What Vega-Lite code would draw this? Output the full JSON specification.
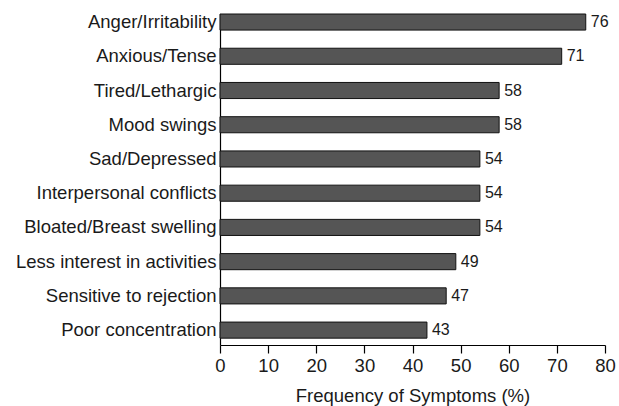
{
  "$schema": "https://vega.github.io/schema/vega-lite/v6.json",
  "autosize": "none",
  "width": 385,
  "height": 331,
  "padding": {"left": 220, "top": 14, "right": 14, "bottom": 61},
  "background": "white",
  "data": {"values": [
    {"symptom": "Anger/Irritability", "value": 76},
    {"symptom": "Anxious/Tense", "value": 71},
    {"symptom": "Tired/Lethargic", "value": 58},
    {"symptom": "Mood swings", "value": 58},
    {"symptom": "Sad/Depressed", "value": 54},
    {"symptom": "Interpersonal conflicts", "value": 54},
    {"symptom": "Bloated/Breast swelling", "value": 54},
    {"symptom": "Less interest in activities", "value": 49},
    {"symptom": "Sensitive to rejection", "value": 47},
    {"symptom": "Poor concentration", "value": 43}
  ]},
  "config": {
    "view": {"stroke": null},
    "font": "Liberation Sans"
  },
  "encoding": {
    "y": {
      "field": "symptom", "type": "nominal", "sort": null,
      "scale": {"paddingInner": 0.53, "paddingOuter": 0.1, "align": 0},
      "axis": {
        "title": null, "ticks": false, "domainColor": "#000", "domainWidth": 1.2,
        "labelFontSize": 18.5, "labelColor": "#1a1a1a", "labelPadding": 4, "labelLimit": 400,
        "labelFont": "Liberation Sans"
      }
    },
    "x": {
      "field": "value", "type": "quantitative",
      "scale": {"domain": [0, 80], "nice": false},
      "axis": {
        "values": [0, 10, 20, 30, 40, 50, 60, 70, 80],
        "title": "Frequency of Symptoms (%)", "titleFontSize": 18.5, "titleFontWeight": "normal",
        "titleColor": "#1a1a1a", "titlePadding": 12,
        "grid": false, "domainColor": "#000", "domainWidth": 1.2,
        "tickColor": "#000", "tickSize": 8, "tickWidth": 1.2,
        "labelFontSize": 18.5, "labelColor": "#1a1a1a", "labelPadding": 3, "labelFlush": false,
        "labelFont": "Liberation Sans", "titleFont": "Liberation Sans"
      }
    }
  },
  "layer": [
    {"mark": {"type": "bar", "color": "#555555", "stroke": "#111", "strokeWidth": 1}},
    {"mark": {"type": "text", "align": "left", "dx": 5, "fontSize": 16, "color": "#1a1a1a", "font": "Liberation Sans"},
     "encoding": {"text": {"field": "value", "type": "quantitative"}}}
  ]
}
